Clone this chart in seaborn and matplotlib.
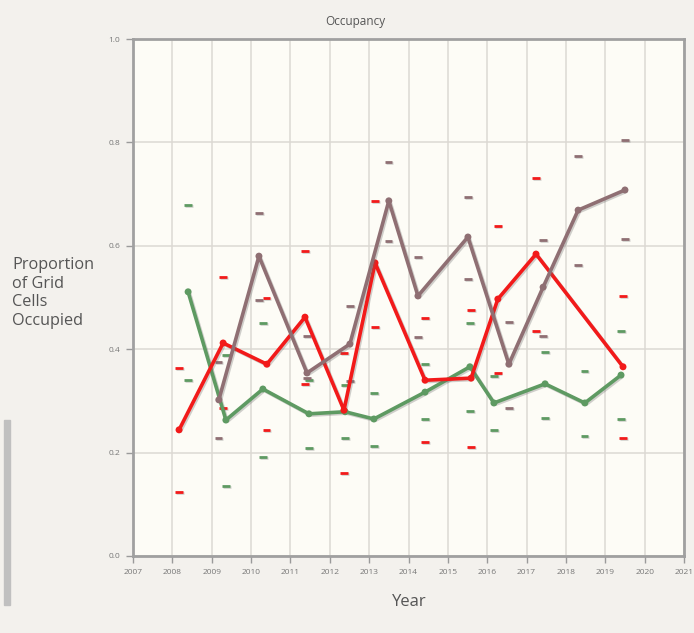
import numpy as np
import pandas as pd
import seaborn as sns
import matplotlib.pyplot as plt
import matplotlib.patheffects as pe
from matplotlib.patches import Rectangle

# ---- data ----
green_x = [2008.40, 2009.36, 2010.30, 2011.47, 2012.39, 2013.12, 2014.42, 2015.56, 2016.17, 2017.47, 2018.48, 2019.40]
green_y = [0.511, 0.263, 0.323, 0.275, 0.279, 0.265, 0.317, 0.366, 0.296, 0.333, 0.296, 0.350]
green_hi = [0.679, 0.389, 0.451, 0.340, 0.330, 0.315, 0.371, 0.451, 0.348, 0.395, 0.358, 0.435]
green_lo = [0.340, 0.135, 0.191, 0.209, 0.228, 0.213, 0.265, 0.280, 0.244, 0.267, 0.232, 0.265]

red_x = [2008.17, 2009.29, 2010.40, 2011.37, 2012.36, 2013.15, 2014.42, 2015.59, 2016.27, 2017.24, 2019.45]
red_y = [0.244, 0.412, 0.371, 0.462, 0.282, 0.567, 0.340, 0.344, 0.497, 0.584, 0.366]
red_hi = [0.364, 0.540, 0.499, 0.590, 0.393, 0.687, 0.460, 0.476, 0.638, 0.731, 0.503]
red_lo = [0.124, 0.286, 0.244, 0.333, 0.161, 0.443, 0.221, 0.211, 0.354, 0.435, 0.228]

brown_x = [2009.18, 2010.20, 2011.42, 2012.51, 2013.50, 2014.24, 2015.51, 2016.55, 2017.42, 2018.31, 2019.50]
brown_y = [0.302, 0.580, 0.354, 0.410, 0.687, 0.503, 0.617, 0.371, 0.520, 0.669, 0.708]
brown_hi = [0.375, 0.663, 0.426, 0.484, 0.762, 0.578, 0.695, 0.453, 0.611, 0.774, 0.805]
brown_lo = [0.228, 0.495, 0.345, 0.338, 0.609, 0.424, 0.536, 0.286, 0.426, 0.563, 0.613]

series_names = ["green", "red", "brown"]
colors = {"green": "#5e9a62", "red": "#f21a1a", "brown": "#8f6f73"}
years = list(range(2007, 2022))
yticks = [0.0, 0.2, 0.4, 0.6, 0.8, 1.0]

# ---- build tables ----
rows, brows = [], []
for name, xs, ys, his, los in [("green", green_x, green_y, green_hi, green_lo),
                               ("red", red_x, red_y, red_hi, red_lo),
                               ("brown", brown_x, brown_y, brown_hi, brown_lo)]:
    for x, y, h, l in zip(xs, ys, his, los):
        rows.append({"series": name, "year": x, "value": y})
        brows.append({"series": name, "year": x, "value": h})
        brows.append({"series": name, "year": x, "value": l})
df = pd.DataFrame(rows)
bdf = pd.DataFrame(brows)

# ---- figure ----
sns.set_style("white")
plt.rcParams["font.family"] = ["Open Sans", "DejaVu Sans"]

fig = plt.figure(figsize=(6.94, 6.33), dpi=100)
fig.patch.set_facecolor("#f3f1ed")
ax = fig.add_axes([133 / 694, 1 - 556 / 633, (684 - 133) / 694, (556 - 39) / 633])
ax.set_facecolor("#fdfcf6")

line_shadow = [pe.SimpleLineShadow(offset=(1.0, -1.0), shadow_color="#666666", alpha=0.3), pe.Normal()]
dash_shadow = [pe.SimpleLineShadow(offset=(0.7, -0.7), shadow_color="#777777", alpha=0.3), pe.Normal()]

sns.scatterplot(data=bdf, x="year", y="value", hue="series", palette=colors,
                hue_order=series_names, marker="_", s=28, linewidth=2.0,
                legend=False, ax=ax, zorder=3)
for coll in ax.collections:
    coll.set_path_effects(dash_shadow)

sns.lineplot(data=df, x="year", y="value", hue="series", palette=colors,
             hue_order=series_names, estimator=None, sort=True,
             marker="o", markersize=5, markeredgewidth=0, linewidth=2.6,
             legend=False, ax=ax, zorder=4)
for line in ax.lines:
    line.set_path_effects(line_shadow)

ax.set_xlim(2007, 2021)
ax.set_ylim(0, 1)
ax.set_xticks(years)
ax.set_xticklabels([str(y) for y in years])
ax.set_yticks(yticks)
ax.set_yticklabels([f"{v:.1f}" for v in yticks])
ax.grid(True, color="#dcd9d3", linewidth=1.1)
ax.set_axisbelow(True)
ax.tick_params(axis="both", which="both", length=5, width=1, color="#9a9a9a",
               labelsize=6, labelcolor="#777777", left=True, bottom=True, pad=4)
for s in ax.spines.values():
    s.set_color("#a0a0a0")
    s.set_linewidth(2)
ax.set_xlabel("")
ax.set_ylabel("")

# ---- texts ----
fig.text(355 / 694, 1 - 22 / 633, "Occupancy", ha="center", va="center",
         fontsize=8.5, color="#555555")
fig.text(409 / 694, 1 - 602 / 633, "Year", ha="center", va="center",
         fontsize=12, color="#555555")
fig.text(12 / 694, 1 - 257 / 633, "Proportion\nof Grid\nCells\nOccupied", ha="left", va="top",
         fontsize=11.7, color="#555555", linespacing=1.22)

# left grey bar of the screenshot
fig.patches.append(Rectangle((4 / 694, 1 - 605 / 633), 6 / 694, 185 / 633,
                             transform=fig.transFigure, color="#c0c0c0", zorder=0))

fig.savefig("out.png", dpi=100, facecolor=fig.get_facecolor())
